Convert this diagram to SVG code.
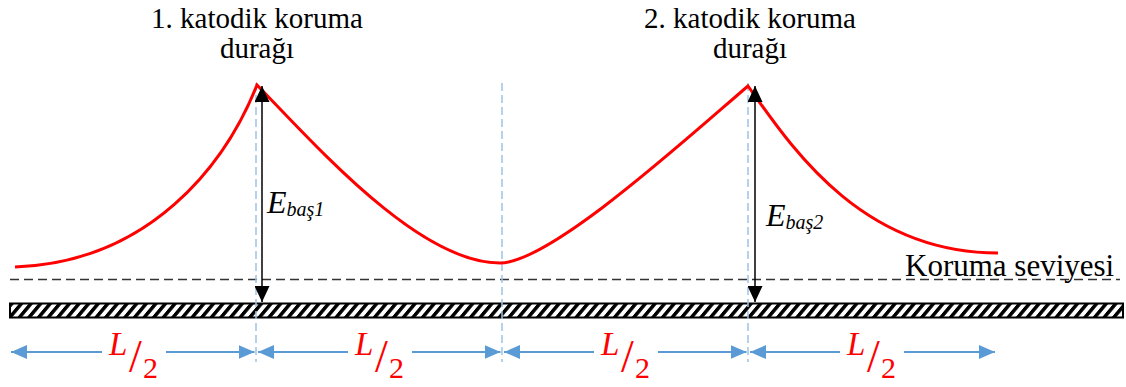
<svg xmlns="http://www.w3.org/2000/svg" width="1126" height="387" viewBox="0 0 1126 387">
<style>
.t{font-family:"Liberation Serif","Times New Roman",serif;fill:#000}
.curve{fill:none;stroke:#FF0000;stroke-width:3}
.guide{stroke:#9DC3E6;stroke-width:1.5;stroke-dasharray:8 4}
.dim{stroke:#5B9BD5;stroke-width:2}
.blk{stroke:#000;stroke-width:1.5}
.lab{font-family:"Liberation Serif","Times New Roman",serif;fill:#FF0000}
</style>
<defs>
<marker id="ab" markerUnits="userSpaceOnUse" markerWidth="16" markerHeight="14" refX="16" refY="7" orient="auto"><path d="M0,0 L16,7 L0,14 z" fill="#5B9BD5"/></marker>
<marker id="ak" markerUnits="userSpaceOnUse" markerWidth="16" markerHeight="15" refX="16" refY="7.5" orient="auto"><path d="M0,0 L16,7.5 L0,15 z" fill="#000"/></marker>
<pattern id="hatch" patternUnits="userSpaceOnUse" width="9.6" height="20" patternTransform="translate(10,303) skewX(-40)">
<rect width="9.6" height="20" fill="#fff"/><rect width="4.6" height="20" fill="#000"/>
</pattern>
</defs>
<g id="pipe"><rect x="10" y="303.5" width="1113" height="14" fill="url(#hatch)" stroke="#000" stroke-width="2"/></g>
<g id="protection-level">
<line x1="10" y1="279.5" x2="1120" y2="279.5" stroke="#333" stroke-width="1.5" stroke-dasharray="9 5"/>
<text class="t" x="905" y="276" font-size="31">Koruma seviyesi</text>
</g>
<g id="guides">
<line class="guide" x1="256" y1="83" x2="256" y2="362"/>
<line class="guide" x1="502" y1="83" x2="502" y2="362"/>
<line class="guide" x1="748" y1="83" x2="748" y2="362"/>
</g>
<g id="potential-curve">
<path class="curve" d="M15,267 C150,262 225,165 257,85 C320,150 420,263 500,263 C550,263 685,140 748,86 C790,145 860,253 998,253"/>
</g>
<g id="station1">
<text class="t" x="257" y="28" font-size="29" text-anchor="middle">1. katodik koruma</text>
<text class="t" x="257" y="58" font-size="29" text-anchor="middle">durağı</text>
</g>
<g id="station2">
<text class="t" x="750" y="28" font-size="29" text-anchor="middle">2. katodik koruma</text>
<text class="t" x="750" y="58" font-size="29" text-anchor="middle">durağı</text>
</g>
<g id="connectors">
<line class="blk" x1="262" y1="190" x2="262" y2="86" marker-end="url(#ak)"/>
<line class="blk" x1="262" y1="190" x2="262" y2="302" marker-end="url(#ak)"/>
<line class="blk" x1="755" y1="190" x2="755" y2="86" marker-end="url(#ak)"/>
<line class="blk" x1="755" y1="190" x2="755" y2="302" marker-end="url(#ak)"/>
<line class="dim" x1="102" y1="352" x2="11" y2="352" marker-end="url(#ab)"/>
<line class="dim" x1="166" y1="352" x2="254.5" y2="352" marker-end="url(#ab)"/>
<line class="dim" x1="348" y1="352" x2="258" y2="352" marker-end="url(#ab)"/>
<line class="dim" x1="412" y1="352" x2="500.5" y2="352" marker-end="url(#ab)"/>
<line class="dim" x1="594" y1="352" x2="504" y2="352" marker-end="url(#ab)"/>
<line class="dim" x1="658" y1="352" x2="746.5" y2="352" marker-end="url(#ab)"/>
<line class="dim" x1="840" y1="352" x2="750" y2="352" marker-end="url(#ab)"/>
<line class="dim" x1="904" y1="352" x2="995" y2="352" marker-end="url(#ab)"/>
</g>
<g id="E1"><text class="t" x="267" y="213" font-size="32" font-style="italic">E<tspan font-size="20" dy="3">baş1</tspan></text></g>
<g id="E2"><text class="t" x="766" y="226" font-size="32" font-style="italic">E<tspan font-size="20" dy="3">baş2</tspan></text></g>
<g id="labels">
<g id="L1"><text class="lab" x="109" y="355" font-size="33" font-style="italic">L</text><text class="lab" x="129" y="372" font-size="46">/</text><text class="lab" x="143" y="378" font-size="30">2</text></g>
<g id="L2"><text class="lab" x="355" y="355" font-size="33" font-style="italic">L</text><text class="lab" x="375" y="372" font-size="46">/</text><text class="lab" x="389" y="378" font-size="30">2</text></g>
<g id="L3"><text class="lab" x="601" y="355" font-size="33" font-style="italic">L</text><text class="lab" x="621" y="372" font-size="46">/</text><text class="lab" x="635" y="378" font-size="30">2</text></g>
<g id="L4"><text class="lab" x="847" y="355" font-size="33" font-style="italic">L</text><text class="lab" x="867" y="372" font-size="46">/</text><text class="lab" x="881" y="378" font-size="30">2</text></g>
</g>
</svg>
